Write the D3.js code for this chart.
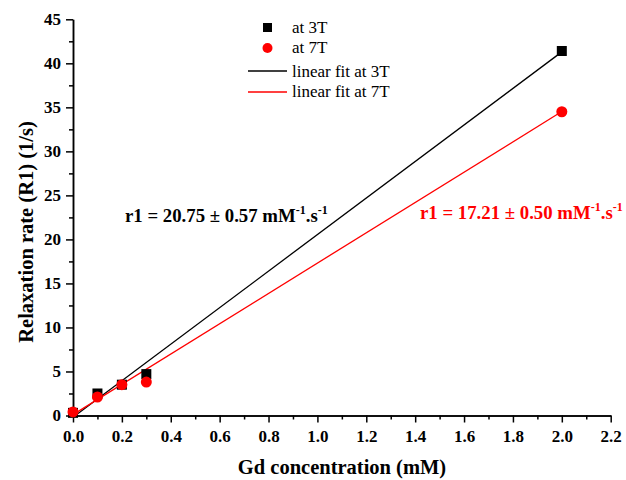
<!DOCTYPE html>
<html>
<head>
<meta charset="utf-8">
<script src="https://cdn.jsdelivr.net/npm/d3@7"></script>
<style>
  body { margin: 0; background: #fff; }
  text { font-family: "Liberation Serif", "Times New Roman", serif; }
</style>
</head>
<body>
<div id="chart"></div>
<script>
// data
const conc = [0, 0.1, 0.2, 0.3, 2.0];
const r1At3T = [0.3, 2.5, 3.5, 4.7, 41.4];
const r1At7T = [0.4, 2.1, 3.5, 3.8, 34.5];
// linear fits: [slope, intercept]
const fit3T = [20.75, -0.2];
const fit7T = [17.21, 0.1];
const fitRange = [0, 2.0];
const xTicks = [0, 0.2, 0.4, 0.6, 0.8, 1.0, 1.2, 1.4, 1.6, 1.8, 2.0, 2.2];
const yTicks = [0, 5, 10, 15, 20, 25, 30, 35, 40, 45];
const legendLabels = ["at 3T", "at 7T", "linear fit at 3T", "linear fit at 7T"];

const w = 626, h = 480;

const svg = d3.select("#chart").append("svg")
  .attr("width", w)
  .attr("height", h);

const x = d3.scaleLinear().domain([0, 2.2]).range([73, 610.7]);
const y = d3.scaleLinear().domain([0, 45]).range([415.5, 19.3]);

// axes, major + minor ticks
const xAxis = d3.axisBottom(x).tickValues(xTicks).tickFormat(d3.format(".1f")).tickSize(7).tickSizeOuter(0);
const xMinor = d3.axisBottom(x).tickValues(d3.range(0.1, 2.2, 0.2)).tickFormat("").tickSize(4).tickSizeOuter(0);
const yAxis = d3.axisLeft(y).tickValues(yTicks).tickSize(7).tickSizeOuter(0);
const yMinor = d3.axisLeft(y).tickValues(d3.range(2.5, 45, 5)).tickFormat("").tickSize(4).tickSizeOuter(0);

function styleAxis(g) {
  g.selectAll("path, line").attr("stroke", "#000").attr("stroke-width", 1.5);
  g.selectAll("text")
    .attr("font-family", "Liberation Serif, Times New Roman, serif")
    .attr("font-weight", "bold")
    .attr("font-size", 17)
    .attr("fill", "#000");
}

svg.append("g").attr("transform", `translate(0,${y(0)})`).call(xMinor).call(styleAxis);
svg.append("g").attr("transform", `translate(0,${y(0)})`).call(xAxis).call(styleAxis)
  .selectAll("text").attr("y", 26).attr("dy", 0);
svg.append("g").attr("transform", `translate(${x(0)},0)`).call(yMinor).call(styleAxis);
svg.append("g").attr("transform", `translate(${x(0)},0)`).call(yAxis).call(styleAxis)
  .selectAll("text").attr("x", -12);

// axis titles
svg.append("text")
  .attr("x", 342).attr("y", 474)
  .attr("text-anchor", "middle")
  .attr("font-weight", "bold").attr("font-size", 20.5)
  .text("Gd concentration (mM)");

svg.append("text")
  .attr("transform", "translate(33,232) rotate(-90)")
  .attr("text-anchor", "middle")
  .attr("font-weight", "bold").attr("font-size", 20.5)
  .text("Relaxation rate (R1) (1/s)");

// fit lines
const line = d3.line().x(d => x(d[0])).y(d => y(d[1]));
const fitPts = f => fitRange.map(c => [c, f[0] * c + f[1]]);

svg.append("path").datum(fitPts(fit3T)).attr("d", line)
  .attr("fill", "none").attr("stroke", "#000").attr("stroke-width", 1.3);
svg.append("path").datum(fitPts(fit7T)).attr("d", line)
  .attr("fill", "none").attr("stroke", "#ff0000").attr("stroke-width", 1.3);

// points
const sq = 10;
svg.append("g").selectAll("rect")
  .data(conc.map((c, i) => [c, r1At3T[i]]))
  .enter().append("rect")
  .attr("x", d => x(d[0]) - sq / 2)
  .attr("y", d => y(d[1]) - sq / 2)
  .attr("width", sq).attr("height", sq)
  .attr("fill", "#000");

svg.append("g").selectAll("circle")
  .data(conc.map((c, i) => [c, r1At7T[i]]))
  .enter().append("circle")
  .attr("cx", d => x(d[0]))
  .attr("cy", d => y(d[1]))
  .attr("r", 5.5)
  .attr("fill", "#ff0000");

// legend
const legend = svg.append("g");
legend.append("rect").attr("x", 263).attr("y", 23).attr("width", 9).attr("height", 9).attr("fill", "#000");
legend.append("circle").attr("cx", 267.5).attr("cy", 48).attr("r", 5).attr("fill", "#ff0000");
legend.append("line").attr("x1", 248).attr("x2", 287).attr("y1", 71).attr("y2", 71).attr("stroke", "#000").attr("stroke-width", 1.3);
legend.append("line").attr("x1", 248).attr("x2", 287).attr("y1", 92).attr("y2", 92).attr("stroke", "#ff0000").attr("stroke-width", 1.3);
const legendY = [33, 53, 77, 97];
legend.selectAll("text.lbl")
  .data(legendLabels)
  .enter().append("text")
  .attr("class", "lbl")
  .attr("x", 292)
  .attr("y", (d, i) => legendY[i])
  .attr("font-size", 17)
  .text(d => d);

// slope annotations
function r1Label(xPos, yPos, val, err, color) {
  const t = svg.append("text")
    .attr("x", xPos).attr("y", yPos)
    .attr("font-weight", "bold").attr("font-size", 18.8)
    .attr("fill", color);
  t.append("tspan").text(`r1 = ${val} ± ${err} mM`);
  t.append("tspan").attr("dy", -8).attr("font-size", 12).text("-1");
  t.append("tspan").attr("dy", 8).text(".s");
  t.append("tspan").attr("dy", -8).attr("font-size", 12).text("-1");
}
r1Label(125, 222, "20.75", "0.57", "#000");
r1Label(420, 219, "17.21", "0.50", "#ff0000");
</script>
</body>
</html>
